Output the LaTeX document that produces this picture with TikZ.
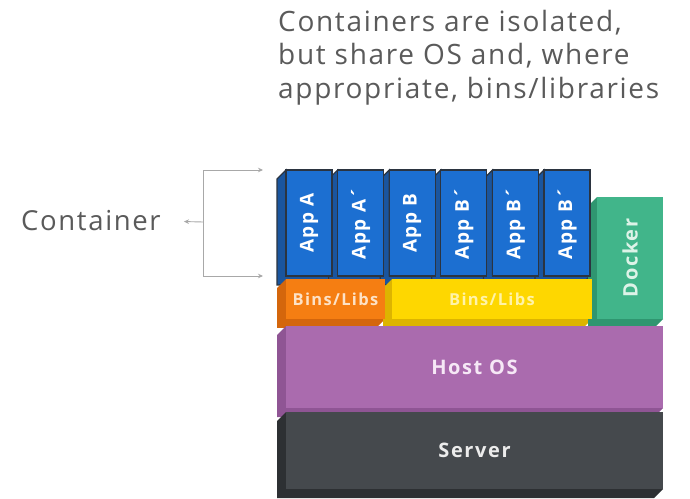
\documentclass[tikz,border=0pt]{standalone}
\usepackage{fontspec}
\usepackage{graphicx}
\setmainfont{Open Sans}
\newfontfamily\capfont{Open Sans}[LetterSpace=6]
\newfontfamily\labfont{Open Sans}[LetterSpace=8]
\usetikzlibrary{positioning, calc, arrows.meta, backgrounds}

\definecolor{capgray}{HTML}{5A5A5A}
\definecolor{bracketgray}{HTML}{A8A8A8}
\definecolor{appblue}{HTML}{1C6FD1}
\definecolor{appside}{HTML}{1A559E}
\definecolor{appedge}{HTML}{2B3440}
\definecolor{binsorange}{HTML}{F57E12}
\definecolor{binsorangeside}{HTML}{D4660C}
\definecolor{binspeach}{HTML}{FDE2C6}
\definecolor{binsyellow}{HTML}{FED700}
\definecolor{binsyellowside}{HTML}{DDB400}
\definecolor{binspale}{HTML}{FFF3A8}
\definecolor{dockergreen}{HTML}{41B58A}
\definecolor{dockerside}{HTML}{2F9670}
\definecolor{dockertext}{HTML}{DDF3E8}
\definecolor{hostpurple}{HTML}{AA6BAE}
\definecolor{hostside}{HTML}{8F5594}
\definecolor{hosttext}{HTML}{F6E8F6}
\definecolor{servergray}{HTML}{45494D}
\definecolor{serverside}{HTML}{2D3033}
\definecolor{servertext}{HTML}{ECECEC}

% left and bottom faces of a block, behind its front
\newcommand\slabside[2]{%
  \begin{scope}[on background layer]
    \filldraw[#2] (#1.north west) -- ++(-9,-9)
      -- ($(#1.south west)+(-9,-9)$) -- ($(#1.south east)+(-9,-9)$)
      -- (#1.south east) -- (#1.south west) -- cycle;
  \end{scope}}

\tikzset{
  slab/.style={rectangle, inner sep=0, outer sep=0,
    font=\labfont\bfseries\fontsize{19}{19}\selectfont},
  app/.style={slab, fill=appblue, draw=appedge, line width=1.2pt,
    minimum width=46, minimum height=106, text=white},
  bracket/.style={draw=bracketgray, line width=0.9pt,
    -{Stealth[length=5pt,width=4.5pt]}},
}

\begin{document}
\begin{tikzpicture}[x=1pt,y=1pt]
  \begin{scope}[on background layer]
    \fill[white] (0,0) rectangle (690,498);
  \end{scope}
  \useasboundingbox (0,0) rectangle (690,498);

  \node[anchor=north west, align=left, inner sep=0, text=capgray,
    font=\capfont\fontsize{28}{33.5}\selectfont] (cap) at (278,488)
    {Containers are isolated,\\but share OS and, where\\appropriate, bins/libraries};

  % apps
  \node[app] (appA) at (309,275) {\rotatebox{90}{App A}};
  \node[app, right=5.6pt of appA] (appA1) {\rotatebox{90}{App A´}};
  \node[app, right=5.6pt of appA1] (appB) {\rotatebox{90}{App B}};
  \node[app, right=5.6pt of appB] (appB1) {\rotatebox{90}{App B´}};
  \node[app, right=5.6pt of appB1] (appB2) {\rotatebox{90}{App B´}};
  \node[app, right=5.6pt of appB2] (appB3) {\rotatebox{90}{App B´}};
  \foreach \n in {appA,appA1,appB,appB1,appB2,appB3}
    \slabside{\n}{fill=appside, draw=appedge, line width=1.2pt};

  % libraries
  \node[slab, fill=binsorange, text=binspeach, minimum width=99, minimum height=40,
    font=\labfont\bfseries\fontsize{16.5}{16.5}\selectfont,
    below right=3pt and 0pt of appA.south west] (binsA) {Bins/Libs};
  \slabside{binsA}{fill=binsorangeside, draw=none};
  \node[slab, fill=binsyellow, text=binspale, minimum width=200, minimum height=40,
    font=\labfont\bfseries\fontsize{16.5}{16.5}\selectfont,
    right=7pt of binsA] (binsB) {Bins/Libs};
  \slabside{binsB}{fill=binsyellowside, draw=none};

  \node[slab, fill=dockergreen, text=dockertext, minimum width=66, minimum height=122,
    font=\labfont\bfseries\fontsize{20}{20}\selectfont,
    above right=0pt and 5pt of binsB.south east] (docker) {\rotatebox{90}{Docker}};
  \slabside{docker}{fill=dockerside, draw=none};

  % host and server
  \node[slab, fill=hostpurple, text=hosttext, minimum width=377, minimum height=82,
    font=\labfont\bfseries\fontsize{20}{20}\selectfont,
    below right=7pt and 0pt of binsA.south west] (host) {Host OS};
  \slabside{host}{fill=hostside, draw=none};
  \node[slab, fill=servergray, text=servertext, minimum width=377, minimum height=77,
    font=\labfont\bfseries\fontsize{20}{20}\selectfont,
    below=4pt of host] (server) {Server};
  \slabside{server}{fill=serverside, draw=none};

  % bracket
  \node[anchor=west, inner sep=0, text=capgray,
    font=\capfont\fontsize{27.5}{27.5}\selectfont] (cont) at (21,277) {Container};
  \coordinate (brMid) at (203,276);
  \draw[bracket, shorten >=23pt] (brMid) -- (cont.east);
  \draw[bracket, shorten >=23pt] (brMid) |- (appA.north west);
  \draw[bracket, shorten >=23pt] (brMid) |- (appA.south west);
\end{tikzpicture}
\end{document}
